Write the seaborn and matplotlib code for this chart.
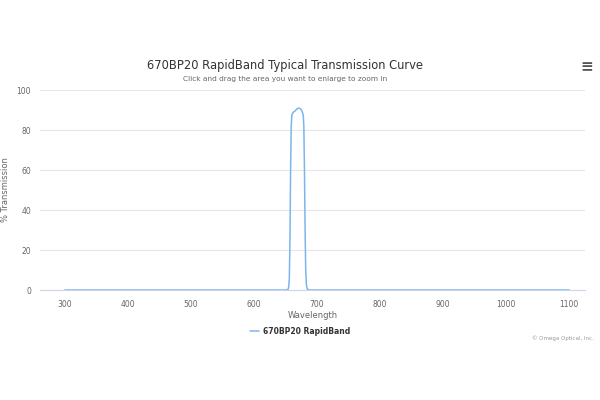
import matplotlib
matplotlib.use("Agg")
import matplotlib.pyplot as plt
import seaborn as sns
import pandas as pd

wavelength = [300, 400, 500, 600, 640, 650, 654, 655, 656, 657, 658, 659, 660, 662, 665,
              668, 671, 674, 676, 678, 679, 680, 681, 682, 683, 684, 685, 688, 700,
              800, 900, 1000, 1100]
transmission = [0, 0, 0, 0, 0, 0, 0.3, 1.5, 6, 25, 60, 82, 87.5, 88.8, 89.5,
                90.5, 91, 90.5, 89.5, 87.5, 82, 60, 30, 10, 3, 1, 0.3, 0, 0,
                0, 0, 0, 0]
xticks = [300, 400, 500, 600, 700, 800, 900, 1000, 1100]
yticks = [0, 20, 40, 60, 80, 100]
series_name = "670BP20 RapidBand"

df = pd.DataFrame({"Wavelength": wavelength, "% Transmission": transmission})

sns.set_theme(style="white")
plt.rcParams['font.family'] = ['DejaVu Sans']

fig = plt.figure(figsize=(6, 4), dpi=100)
ax = fig.add_axes([40/600, 110/400, 545/600, 200/400])

sns.lineplot(data=df, x="Wavelength", y="% Transmission", ax=ax,
             color="#7cb5ec", linewidth=1.1, label=series_name, legend=False)

ax.set_xlim(260.5, 1125)
ax.set_ylim(0, 100)
ax.set_xticks(xticks)
ax.set_yticks(yticks)
ax.grid(axis="y", color="#e6e6e6", linewidth=0.8)
ax.set_axisbelow(True)
for s in ["top", "right", "left"]:
    ax.spines[s].set_visible(False)
ax.spines["bottom"].set_color("#ccd6eb")
ax.spines["bottom"].set_linewidth(0.8)
ax.tick_params(axis="x", colors="#ccd6eb", length=5, width=0.8, labelcolor="#666666",
               labelsize=5.5, pad=2)
ax.tick_params(axis="y", length=0, labelcolor="#666666", labelsize=5.5, pad=6.5)
ax.set_xlabel("Wavelength", fontsize=6, color="#666666", labelpad=2)
ax.set_ylabel("% Transmission", fontsize=6, color="#666666")
ax.yaxis.set_label_coords(-0.055, 0.5)

fig.text(0.475, 1 - 65/400, "670BP20 RapidBand Typical Transmission Curve",
         ha="center", va="center", fontsize=8.3, color="#333333")
fig.text(0.475, 1 - 79/400, "Click and drag the area you want to enlarge to zoom in",
         ha="center", va="center", fontsize=5.3, color="#666666")
fig.text(587/600, 1 - 67/400, "≡", ha="center", va="center", fontsize=11,
         color="#555555", fontweight="bold")

leg = fig.legend(loc="center", bbox_to_anchor=(0.5, 1 - 331/400), frameon=False,
                 fontsize=5.5, handlelength=1.3, handletextpad=0.5)
for t in leg.get_texts():
    t.set_fontweight("bold")
    t.set_color("#333333")

fig.text(594/600, 1 - 338/400, "© Omega Optical, Inc.", ha="right", va="center",
         fontsize=4, color="#999999")

fig.savefig("out.png", dpi=100, facecolor="white")
